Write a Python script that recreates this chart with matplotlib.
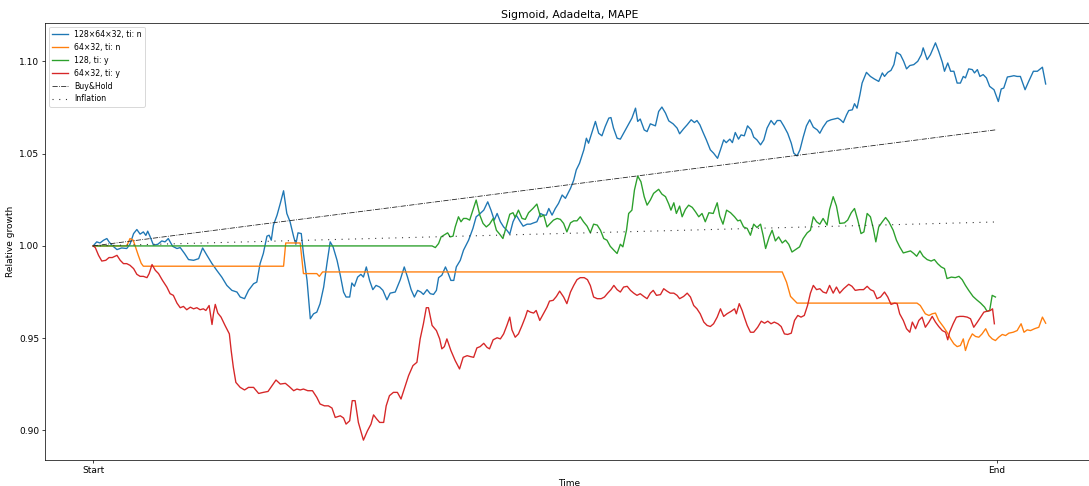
import numpy as np
import matplotlib
matplotlib.use("Agg")
import matplotlib.pyplot as plt

# (trading day, relative growth) for every strategy
net_128x64x32_n = [
    (0, 1.0), (1.0, 1.0022), (1.9, 1.0016), (2.9, 1.0031), (3.8, 1.0040), (4.4, 1.0022),
    (5.2, 1.0004), (6.6, 0.9980), (7.9, 0.9989), (9.3, 0.9986), (10.2, 1.0009), (11.2, 1.0067),
    (12.1, 1.0089), (13.0, 1.0064), (13.9, 1.0076), (14.6, 1.0057), (15.1, 1.0080), (15.8, 1.0049),
    (16.7, 1.0004), (17.9, 1.0009), (19.0, 1.0027), (19.9, 1.0022), (20.8, 1.0040), (22.0, 0.9998),
    (23.2, 0.9986), (24.1, 0.9991), (25.3, 0.9959), (26.4, 0.9926), (27.8, 0.9922), (29.2, 0.9931),
    (30.3, 0.9989), (31.5, 0.9949), (32.9, 0.9904), (34.2, 0.9868), (35.6, 0.9831), (37.0, 0.9786),
    (38.4, 0.9759), (39.8, 0.9750), (40.7, 0.9723), (41.9, 0.9714), (43.0, 0.9759), (44.4, 0.9795),
    (45.3, 0.9804), (46.2, 0.9904), (47.1, 0.9959), (48.1, 1.0053), (48.7, 1.0058), (49.3, 1.0031),
    (49.9, 1.0113), (50.9, 1.0167), (51.8, 1.0231), (52.7, 1.0299), (53.6, 1.0176), (54.5, 1.0131),
    (55.5, 1.0049), (56.1, 1.0009), (56.7, 1.0071), (57.6, 1.0067), (58.2, 0.9959), (59.2, 0.9813),
    (60.1, 0.9605), (61.0, 0.9632), (61.9, 0.9641), (62.8, 0.9687), (63.8, 0.9777), (64.7, 0.9904),
    (65.6, 1.0022), (66.4, 0.9995), (67.5, 0.9922), (68.4, 0.9841), (69.3, 0.9750), (70.0, 0.9723),
    (71.0, 0.9723), (71.6, 0.9799), (72.3, 0.9781), (73.2, 0.9831), (74.1, 0.9846), (74.8, 0.9831),
    (75.6, 0.9886), (76.5, 0.9813), (77.4, 0.9763), (78.3, 0.9786), (79.3, 0.9777), (80.2, 0.9759),
    (81.3, 0.9708), (82.2, 0.9744), (83.6, 0.9750), (85.0, 0.9817), (86.1, 0.9886), (87.0, 0.9831),
    (88.0, 0.9763), (88.9, 0.9723), (89.8, 0.9759), (90.7, 0.9750), (91.4, 0.9737), (92.4, 0.9763),
    (93.3, 0.9741), (94.2, 0.9737), (95.0, 0.9759), (95.6, 0.9828), (96.5, 0.9841), (97.5, 0.9886),
    (98.1, 0.9859), (99.0, 0.9813), (99.8, 0.9813), (100.5, 0.9886), (101.6, 0.9922), (102.5, 0.9977),
    (103.9, 1.0031), (105.1, 1.0095), (106.0, 1.0158), (106.9, 1.0172), (108.1, 1.0194), (109.2, 1.0239),
    (110.1, 1.0194), (111.0, 1.0140), (111.8, 1.0176), (112.7, 1.0131), (113.6, 1.0103), (114.5, 1.0085),
    (115.3, 1.0064), (116.2, 1.0131), (117.1, 1.0167), (118.2, 1.0131), (119.0, 1.0107), (120.1, 1.0118),
    (121.0, 1.0118), (121.9, 1.0125), (122.8, 1.0131), (123.8, 1.0176), (124.7, 1.0167), (125.4, 1.0167),
    (126.1, 1.0203), (127.0, 1.0167), (127.9, 1.0203), (128.8, 1.0231), (129.8, 1.0276), (130.7, 1.0258),
    (131.3, 1.0281), (132.1, 1.0312), (133.0, 1.0357), (133.7, 1.0412), (134.6, 1.0448), (135.8, 1.0521),
    (136.5, 1.0584), (137.1, 1.0557), (138.1, 1.0620), (139.0, 1.0675), (139.9, 1.0611), (140.8, 1.0597),
    (141.7, 1.0647), (142.7, 1.0693), (143.3, 1.0696), (144.0, 1.0639), (145.0, 1.0584), (145.9, 1.0579),
    (146.8, 1.0611), (147.9, 1.0651), (149.1, 1.0693), (150.1, 1.0747), (150.7, 1.0675), (151.4, 1.0688),
    (152.5, 1.0629), (153.3, 1.0620), (154.2, 1.0662), (155.6, 1.0651), (156.5, 1.0729), (157.4, 1.0753),
    (158.4, 1.0720), (159.3, 1.0678), (160.5, 1.0662), (161.6, 1.0639), (162.3, 1.0608), (163.4, 1.0635),
    (164.4, 1.0657), (165.5, 1.0684), (166.4, 1.0669), (167.1, 1.0680), (167.9, 1.0657), (168.8, 1.0615),
    (169.7, 1.0575), (170.8, 1.0521), (171.7, 1.0503), (172.8, 1.0475), (173.6, 1.0521), (174.5, 1.0575),
    (175.2, 1.0560), (176.2, 1.0579), (176.9, 1.0560), (177.7, 1.0615), (178.6, 1.0579), (179.3, 1.0602),
    (180.2, 1.0597), (181.1, 1.0651), (182.1, 1.0629), (182.8, 1.0590), (183.7, 1.0575), (184.7, 1.0548),
    (185.6, 1.0575), (186.5, 1.0639), (187.6, 1.0680), (188.5, 1.0657), (189.3, 1.0680), (190.2, 1.0680),
    (191.1, 1.0651), (192.2, 1.0611), (193.2, 1.0557), (193.9, 1.0503), (194.8, 1.0488), (195.6, 1.0521),
    (196.5, 1.0590), (197.4, 1.0651), (198.3, 1.0684), (199.3, 1.0644), (200.4, 1.0629), (201.1, 1.0611),
    (202.0, 1.0644), (203.1, 1.0675), (204.2, 1.0684), (205.0, 1.0688), (206.1, 1.0693), (206.8, 1.0684),
    (207.6, 1.0669), (208.5, 1.0711), (209.1, 1.0734), (210.1, 1.0738), (210.7, 1.0771), (211.4, 1.0747),
    (212.2, 1.0820), (212.8, 1.0883), (214.0, 1.0941), (215.1, 1.0919), (216.2, 1.0905), (217.4, 1.0892),
    (218.4, 1.0938), (219.0, 1.0919), (219.9, 1.0941), (220.8, 1.0952), (221.6, 1.0983), (222.3, 1.1050),
    (223.4, 1.1037), (224.3, 1.1001), (225.1, 1.0960), (226.0, 1.0978), (227.1, 1.0983), (228.2, 1.1001),
    (229.2, 1.1037), (229.7, 1.1074), (230.8, 1.1010), (231.7, 1.1037), (233.1, 1.1101), (234.0, 1.1055),
    (235.0, 1.0996), (235.6, 1.0947), (236.5, 1.0992), (237.3, 1.0947), (238.2, 1.0947), (239.1, 1.0883),
    (240.0, 1.0883), (240.8, 1.0919), (241.4, 1.0911), (242.3, 1.0960), (243.3, 1.0956), (243.9, 1.0938),
    (244.7, 1.0956), (245.4, 1.0919), (246.3, 1.0929), (247.2, 1.0911), (248.1, 1.0865), (249.3, 1.0847),
    (250.5, 1.0783), (251.3, 1.0851), (252.0, 1.0856), (253.0, 1.0916), (253.9, 1.0919), (254.8, 1.0923),
    (255.7, 1.0919), (256.6, 1.0919), (257.9, 1.0847), (258.9, 1.0892), (260.2, 1.0947), (261.3, 1.0947),
    (262.7, 1.0969), (263.6, 1.0878),
]

net_64x32_n = [
    (0, 1.0), (9.3, 1.0), (10.2, 1.0040), (11.1, 1.0031), (12.5, 0.9949), (13.3, 0.9906),
    (13.9, 0.9890), (52.7, 0.9890), (53.3, 1.0016), (57.3, 1.0016), (58.2, 0.9850), (61.9, 0.9850),
    (62.6, 0.9835), (63.5, 0.9859), (190.7, 0.9859), (191.9, 0.9803), (193.0, 0.9726), (194.8, 0.9690),
    (228.0, 0.9690), (228.9, 0.9677), (230.3, 0.9632), (231.3, 0.9623), (232.2, 0.9632), (233.1, 0.9636),
    (234.0, 0.9596), (235.4, 0.9559), (236.3, 0.9532), (237.3, 0.9496), (238.2, 0.9469), (239.1, 0.9454),
    (240.0, 0.9460), (240.8, 0.9496), (241.4, 0.9433), (242.3, 0.9487), (243.3, 0.9523), (244.2, 0.9509),
    (245.1, 0.9505), (246.0, 0.9523), (247.0, 0.9551), (247.9, 0.9514), (248.8, 0.9496), (249.7, 0.9487),
    (250.6, 0.9505), (251.6, 0.9520), (252.5, 0.9514), (253.4, 0.9527), (254.6, 0.9532), (255.7, 0.9541),
    (256.8, 0.9578), (257.6, 0.9532), (258.5, 0.9545), (259.4, 0.9541), (260.5, 0.9551), (261.7, 0.9559),
    (262.7, 0.9614), (263.6, 0.9581),
]

net_128_y = [
    (0, 1.0), (93.8, 1.0), (94.7, 0.9991), (95.6, 1.0013), (96.3, 1.0049), (97.5, 1.0064),
    (98.1, 1.0071), (98.8, 1.0049), (99.6, 1.0053), (100.2, 1.0103), (101.1, 1.0158), (101.8, 1.0131),
    (102.5, 1.0149), (103.3, 1.0149), (104.2, 1.0140), (105.1, 1.0194), (106.0, 1.0249), (107.0, 1.0167),
    (107.9, 1.0122), (108.8, 1.0103), (109.7, 1.0118), (110.7, 1.0149), (111.6, 1.0085), (112.5, 1.0064),
    (113.4, 1.0040), (114.3, 1.0103), (115.3, 1.0172), (116.2, 1.0180), (116.8, 1.0154), (117.7, 1.0194),
    (118.7, 1.0149), (119.6, 1.0144), (120.5, 1.0180), (121.7, 1.0203), (122.8, 1.0227), (123.8, 1.0158),
    (124.7, 1.0167), (125.6, 1.0103), (126.5, 1.0122), (127.4, 1.0140), (128.4, 1.0149), (129.3, 1.0144),
    (130.2, 1.0122), (131.1, 1.0076), (132.1, 1.0125), (133.0, 1.0136), (133.9, 1.0136), (134.8, 1.0158),
    (135.7, 1.0131), (136.7, 1.0107), (137.6, 1.0071), (138.5, 1.0118), (139.5, 1.0113), (140.4, 1.0085),
    (141.3, 1.0040), (142.2, 1.0031), (143.1, 0.9998), (144.1, 0.9977), (145.0, 0.9959), (145.9, 1.0009),
    (146.6, 0.9995), (147.6, 1.0085), (148.2, 1.0176), (149.1, 1.0194), (149.8, 1.0303), (150.7, 1.0379),
    (151.6, 1.0348), (152.5, 1.0267), (153.3, 1.0221), (154.2, 1.0249), (155.1, 1.0285), (156.5, 1.0307),
    (157.4, 1.0281), (158.4, 1.0267), (159.3, 1.0227), (159.9, 1.0194), (160.7, 1.0234), (161.4, 1.0176),
    (162.3, 1.0216), (163.0, 1.0158), (163.9, 1.0198), (164.8, 1.0221), (165.8, 1.0209), (166.7, 1.0185),
    (167.6, 1.0158), (168.5, 1.0176), (169.4, 1.0131), (170.4, 1.0180), (171.6, 1.0176), (172.7, 1.0234),
    (173.4, 1.0162), (174.3, 1.0118), (175.3, 1.0194), (176.4, 1.0180), (177.5, 1.0158), (178.4, 1.0136),
    (179.1, 1.0140), (180.0, 1.0103), (181.0, 1.0095), (181.9, 1.0058), (182.8, 1.0118), (183.7, 1.0100),
    (184.7, 1.0118), (185.4, 1.0058), (186.1, 0.9986), (187.1, 1.0049), (187.9, 1.0085), (188.8, 1.0027),
    (189.7, 1.0049), (190.7, 1.0016), (191.6, 1.0031), (192.5, 1.0009), (193.4, 0.9967), (194.4, 0.9980),
    (195.5, 0.9995), (196.5, 1.0040), (197.6, 1.0071), (198.5, 1.0085), (199.3, 1.0158), (200.2, 1.0131),
    (201.1, 1.0118), (202.0, 1.0149), (203.1, 1.0113), (203.8, 1.0198), (204.8, 1.0267), (205.7, 1.0216),
    (206.6, 1.0122), (207.9, 1.0125), (208.8, 1.0140), (209.8, 1.0180), (210.7, 1.0203), (211.6, 1.0140),
    (212.5, 1.0067), (213.3, 1.0076), (214.2, 1.0176), (215.1, 1.0158), (215.9, 1.0095), (216.6, 1.0022),
    (217.4, 1.0103), (218.4, 1.0131), (219.3, 1.0154), (220.2, 1.0131), (221.4, 1.0085), (222.3, 1.0031),
    (223.2, 0.9995), (224.2, 0.9962), (225.1, 0.9967), (226.2, 0.9973), (227.1, 0.9959), (227.9, 0.9944),
    (228.8, 0.9973), (229.7, 0.9944), (230.8, 0.9926), (231.9, 0.9918), (232.8, 0.9926), (233.7, 0.9904),
    (234.7, 0.9886), (235.6, 0.9877), (236.3, 0.9823), (237.5, 0.9831), (238.6, 0.9828), (239.6, 0.9835),
    (240.5, 0.9817), (241.4, 0.9786), (242.3, 0.9759), (243.5, 0.9726), (244.5, 0.9708), (245.6, 0.9690),
    (246.7, 0.9668), (247.4, 0.9645), (248.1, 0.9650), (248.8, 0.9732), (249.7, 0.9723),
]

net_64x32_y = [
    (0, 1.0), (0.6, 0.9991), (1.5, 0.9949), (2.4, 0.9918), (3.5, 0.9922), (4.4, 0.9937),
    (5.3, 0.9937), (6.6, 0.9949), (7.5, 0.9922), (8.4, 0.9904), (9.3, 0.9904), (10.2, 0.9895),
    (11.2, 0.9877), (12.1, 0.9846), (13.0, 0.9835), (13.9, 0.9835), (14.9, 0.9828), (15.5, 0.9850),
    (16.3, 0.9899), (17.2, 0.9868), (18.1, 0.9850), (19.2, 0.9813), (20.4, 0.9777), (21.3, 0.9741),
    (22.2, 0.9732), (23.2, 0.9690), (24.1, 0.9665), (25.0, 0.9672), (25.9, 0.9654), (26.9, 0.9668),
    (27.8, 0.9659), (28.7, 0.9665), (29.6, 0.9654), (30.5, 0.9659), (31.2, 0.9650), (32.1, 0.9677),
    (32.9, 0.9574), (33.3, 0.9632), (33.8, 0.9683), (34.5, 0.9636), (35.4, 0.9614), (36.5, 0.9569),
    (37.7, 0.9523), (38.2, 0.9433), (38.8, 0.9342), (39.5, 0.9260), (40.7, 0.9233), (41.9, 0.9219),
    (43.0, 0.9233), (44.4, 0.9233), (45.8, 0.9200), (47.1, 0.9206), (48.4, 0.9211), (49.5, 0.9242),
    (50.6, 0.9273), (51.8, 0.9251), (53.2, 0.9255), (54.3, 0.9237), (55.5, 0.9215), (56.4, 0.9224),
    (57.3, 0.9219), (58.2, 0.9224), (59.4, 0.9215), (60.7, 0.9215), (61.9, 0.9179), (62.8, 0.9143),
    (64.0, 0.9133), (65.1, 0.9133), (66.1, 0.9121), (67.0, 0.9070), (68.4, 0.9079), (69.3, 0.9067),
    (70.0, 0.9034), (71.0, 0.9052), (71.7, 0.9161), (72.5, 0.9161), (73.4, 0.9043), (74.8, 0.8947),
    (75.9, 0.8997), (76.9, 0.9034), (77.6, 0.9084), (78.5, 0.9061), (79.3, 0.9043), (80.4, 0.9043),
    (81.1, 0.9133), (82.0, 0.9188), (83.1, 0.9206), (84.2, 0.9206), (85.2, 0.9170), (86.1, 0.9224),
    (87.3, 0.9297), (88.5, 0.9351), (89.6, 0.9369), (90.5, 0.9496), (91.4, 0.9578), (92.2, 0.9665),
    (92.8, 0.9665), (93.8, 0.9569), (95.0, 0.9541), (95.9, 0.9496), (96.5, 0.9442), (97.2, 0.9454),
    (97.9, 0.9496), (99.0, 0.9433), (100.2, 0.9378), (101.4, 0.9333), (102.4, 0.9396), (103.5, 0.9405),
    (104.4, 0.9400), (105.3, 0.9396), (106.2, 0.9447), (107.1, 0.9454), (108.1, 0.9472), (109.0, 0.9450),
    (109.7, 0.9442), (110.7, 0.9491), (111.8, 0.9502), (112.7, 0.9496), (113.6, 0.9523), (114.5, 0.9569),
    (115.3, 0.9614), (115.9, 0.9545), (116.8, 0.9505), (117.7, 0.9523), (118.7, 0.9569), (119.6, 0.9614),
    (120.2, 0.9650), (121.0, 0.9641), (121.9, 0.9636), (122.6, 0.9650), (123.6, 0.9596), (124.7, 0.9636),
    (125.6, 0.9668), (126.3, 0.9701), (127.3, 0.9705), (128.2, 0.9726), (129.1, 0.9755), (130.2, 0.9723),
    (131.1, 0.9687), (132.1, 0.9750), (133.0, 0.9786), (133.9, 0.9817), (134.8, 0.9828), (135.9, 0.9828),
    (136.8, 0.9817), (137.6, 0.9785), (138.5, 0.9723), (139.5, 0.9714), (140.6, 0.9714), (141.5, 0.9723),
    (142.4, 0.9744), (143.3, 0.9763), (144.1, 0.9786), (145.0, 0.9763), (145.9, 0.9750), (146.8, 0.9777),
    (147.8, 0.9781), (148.7, 0.9759), (149.6, 0.9744), (150.5, 0.9732), (151.4, 0.9741), (152.4, 0.9726),
    (153.3, 0.9714), (154.2, 0.9744), (155.0, 0.9759), (155.9, 0.9732), (157.0, 0.9736), (157.9, 0.9768),
    (158.8, 0.9755), (159.7, 0.9744), (160.7, 0.9744), (161.6, 0.9732), (162.3, 0.9714), (163.4, 0.9726),
    (164.4, 0.9744), (165.3, 0.9723), (166.2, 0.9677), (167.1, 0.9659), (168.0, 0.9632), (169.0, 0.9587),
    (169.9, 0.9569), (170.8, 0.9563), (171.7, 0.9578), (172.7, 0.9614), (173.6, 0.9659), (174.5, 0.9618),
    (175.4, 0.9632), (176.6, 0.9646), (177.5, 0.9659), (178.0, 0.9632), (178.8, 0.9687), (179.6, 0.9650),
    (180.2, 0.9614), (181.0, 0.9569), (181.9, 0.9532), (182.8, 0.9532), (183.9, 0.9559), (184.9, 0.9592),
    (185.8, 0.9581), (186.7, 0.9592), (187.6, 0.9578), (188.5, 0.9587), (189.5, 0.9578), (190.4, 0.9563),
    (191.3, 0.9523), (192.2, 0.9520), (193.2, 0.9527), (194.1, 0.9596), (195.0, 0.9623), (195.9, 0.9614),
    (196.8, 0.9623), (197.7, 0.9677), (198.5, 0.9744), (199.3, 0.9786), (200.2, 0.9763), (201.1, 0.9768),
    (202.0, 0.9750), (202.9, 0.9744), (203.8, 0.9786), (204.8, 0.9744), (205.7, 0.9777), (206.6, 0.9744),
    (207.7, 0.9768), (209.1, 0.9792), (210.0, 0.9781), (210.9, 0.9759), (212.1, 0.9763), (213.2, 0.9763),
    (214.2, 0.9781), (215.1, 0.9763), (216.0, 0.9755), (216.9, 0.9714), (217.9, 0.9723), (219.0, 0.9750),
    (219.9, 0.9723), (220.8, 0.9683), (221.8, 0.9690), (222.5, 0.9687), (223.2, 0.9632), (224.2, 0.9596),
    (225.1, 0.9551), (226.0, 0.9532), (226.7, 0.9587), (227.6, 0.9551), (228.5, 0.9596), (229.4, 0.9614),
    (230.3, 0.9559), (231.3, 0.9587), (232.2, 0.9618), (233.1, 0.9587), (234.0, 0.9563), (235.0, 0.9541),
    (235.9, 0.9532), (236.5, 0.9491), (237.0, 0.9532), (238.0, 0.9578), (238.9, 0.9614), (239.8, 0.9618),
    (240.8, 0.9618), (241.9, 0.9614), (242.8, 0.9605), (243.7, 0.9559), (244.7, 0.9587), (245.6, 0.9614),
    (246.5, 0.9641), (247.4, 0.9646), (248.3, 0.9650), (248.9, 0.9659), (249.4, 0.9578),
]

buy_and_hold = [(0, 1.0), (250, 1.063)]
inflation = [(0, 1.0), (250, 1.013)]

labels = ["128×64×32, ti: n", "64×32, ti: n", "128, ti: y", "64×32, ti: y"]
tick_days = [0, 250]
tick_labels = ["Start", "End"]

fig = plt.figure(figsize=(1089 / 65, 486 / 65), dpi=65)
ax = fig.add_axes([45.5 / 1089, 26 / 486, 1047.8 / 1089, 437 / 486])

for pts, lab in zip([net_128x64x32_n, net_64x32_n, net_128_y, net_64x32_y], labels):
    t, v = np.array(pts).T
    ax.plot(t, v, label=lab)

t, v = np.array(buy_and_hold).T
ax.plot(t, v, color="#222222", linestyle="-.", linewidth=0.9, label="Buy&Hold")
t, v = np.array(inflation).T
ax.plot(t, v, color="#333333", linestyle=(0, (1, 5.2)), linewidth=1.2, label="Inflation")

ax.set_xticks(tick_days)
ax.set_xticklabels(tick_labels)
ax.set_title("Sigmoid, Adadelta, MAPE")
ax.set_xlabel("Time")
ax.set_ylabel("Relative growth")
ax.legend(loc="upper left", fontsize=8.6)

fig.savefig("out.png", dpi=65)
